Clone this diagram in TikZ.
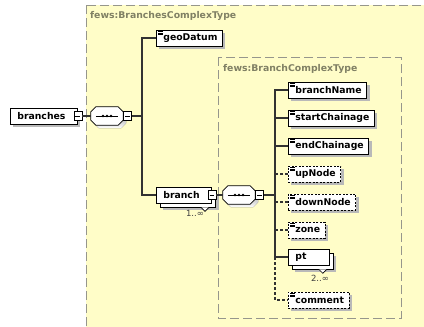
\documentclass[tikz,border=0pt]{standalone}
\usepackage{fontspec}
\setmainfont{DejaVu Sans}
\usetikzlibrary{shadows}
\definecolor{typebg}{RGB}{255,253,200}
\definecolor{typeframe}{RGB}{150,150,140}
\definecolor{typetext}{RGB}{128,128,100}
\definecolor{wire}{RGB}{50,50,50}
\definecolor{shade}{RGB}{185,185,185}
% chamfered outline around a named placeholder node, offset by (#2,#3)
\newcommand{\seqpath}[3]{%
  ([shift={(#2+5,#3)}]#1.north west) -- ([shift={(#2-5,#3)}]#1.north east)
  -- ([shift={(#2,#3+5)}]#1.north east) -- ([shift={(#2,#3-5)}]#1.south east)
  -- ([shift={(#2-5,#3)}]#1.south east) -- ([shift={(#2+5,#3)}]#1.south west)
  -- ([shift={(#2,#3-5)}]#1.south west) -- ([shift={(#2,#3+5)}]#1.north west) -- cycle}
% sequence compositor: shadow, frame and the dotted sequence marker
\newcommand{\seqoutline}[1]{%
  \fill[shade] \seqpath{#1}{3}{3};
  \draw[compframe] \seqpath{#1}{0}{0};
  \draw[line width=0.9pt] ([xshift=5pt]#1.west) -- ([xshift=-5pt]#1.east);
  \foreach \dx in {-4,0,4}
    \fill ([xshift=\dx pt]#1.center) circle (1.35pt);
}
\begin{document}
\begin{tikzpicture}[x=1pt,y=-1pt,
  typebox/.style={draw=typeframe, fill=typebg, line width=0.8pt, dash pattern=on 9pt off 4pt},
  typelabel/.style={anchor=west, inner sep=0pt, text=typetext, font=\fontsize{9.3}{10}\selectfont\bfseries},
  elembase/.style={draw=black, fill=white, line width=0.7pt, minimum height=16pt,
    inner xsep=5pt, inner ysep=0pt, anchor=west, font=\fontsize{9.3}{10}\selectfont\bfseries},
  elem/.style={elembase, drop shadow={shadow xshift=3pt, shadow yshift=-3pt, fill=shade, opacity=1, draw=none}},
  multielem/.style={elembase,
    drop shadow={shadow xshift=7pt, shadow yshift=-7pt, fill=shade, opacity=1, draw=none},
    copy shadow={shadow xshift=4pt, shadow yshift=-4pt}},
  optional/.style={dash pattern=on 2pt off 1.5pt},
  seqnode/.style={minimum width=32pt, minimum height=18pt, inner sep=0pt},
  compframe/.style={draw=black, fill=white, line width=0.7pt},
  minusbox/.style={draw=black, fill=white, line width=0.6pt, minimum width=8pt, minimum height=9pt, inner sep=0pt,
    path picture={\draw[line width=0.6pt] ([xshift=1.6pt]path picture bounding box.west) -- ([xshift=-1.6pt]path picture bounding box.east);}},
  wireline/.style={draw=wire, line width=1.1pt},
  optline/.style={dash pattern=on 3pt off 2pt},
  mult/.style={inner sep=0pt, text=black!75, font=\fontsize{8.5}{9}\selectfont},
  iconline/.style={line width=0.55pt, draw=black},
  notch/.style={draw=black, fill=white, line width=0.6pt}
]
\useasboundingbox (0,0) rectangle (424,327);
\clip (0,0) rectangle (424,327);

% complex type frames
\draw[typebox] (86,5) rectangle (440,345);
\node[typelabel] (branchestype) at (90,16) {fews:BranchesComplexType};
\draw[typebox] (218,57) rectangle (401,318);
\node[typelabel] (branchtype) at (223,69) {fews:BranchComplexType};

% root element and its sequence
\node[elem] (branches) at (10,116) {\kern2pt branches\kern7pt};
\node[minusbox] (branchesm) at (branches.east) {};
\node[seqnode] (c1) at (107,116) {};
\seqoutline{c1}
\node[minusbox] (c1m) at (127.5,116) {};
\coordinate (j1) at (142,116);

\node[elem] (geo) at (156,38) {\kern2pt geoDatum};

\node[multielem] (branch) at (156,195) {\kern2pt branch\kern7pt};
\draw[notch] ([shift={(-11,4)}]branch.south east) -- ++(4,4) -- ++(4,-4);
\node[minusbox] (branchm) at (branch.east) {};
\node[mult] (m1) at (195,213) {1..∞};

% branch content sequence
\node[seqnode] (c2) at (239,195) {};
\seqoutline{c2}
\node[minusbox] (c2m) at (259.5,195) {};
\coordinate (j2) at (275,195);

\node[elem] (bn) at (288,90) {\kern2pt branchName};
\node[elem] (sc) at (288,118) {\kern2pt startChainage};
\node[elem] (ec) at (288,146) {\kern2pt endChainage};
\node[elem,optional] (up) at (288,174) {\kern2pt upNode};
\node[elem,optional] (dn) at (288,202) {\kern2pt downNode};
\node[elem,optional] (zn) at (288,230) {\kern2pt zone};
\node[multielem] (pt) at (288,257) {\kern2pt pt\kern18pt};
\draw[notch] ([shift={(-11,4)}]pt.south east) -- ++(4,4) -- ++(4,-4);
\node[mult] (m2) at (320,278) {2..∞};
\node[elem,optional] (cm) at (288,300) {\kern2pt comment};

% simple-content icons
\foreach \n in {geo,bn,sc,ec,up,dn,zn,cm}{
  \foreach \dy in {1.8,3.4,5.0}
    \draw[iconline] ([shift={(2,\dy)}]\n.north west) -- ++(5,0);
}

% connectors
\draw[wireline] (branchesm.east) -- (c1.west);
\draw[wireline] (c1.east) -- (c1m.west);
\draw[wireline] (c1m.east) -- (j1);
\draw[wireline] (geo.west) -| (j1) |- (branch.west);

\draw[wireline] (branchm.east) -- (c2.west);
\draw[wireline] (c2.east) -- (c2m.west);
\draw[wireline] (c2m.east) -- (j2);
\draw[wireline] (bn.west) -| (j2) |- (pt.west);
\foreach \n in {sc,ec}
  \draw[wireline] (\n.west) -- (\n.west -| j2);
\foreach \n in {up,dn,zn}
  \draw[wireline,optline] (\n.west) -- (\n.west -| j2);
\draw[wireline,optline] (pt.west -| j2) |- (cm.west);
\end{tikzpicture}
\end{document}
